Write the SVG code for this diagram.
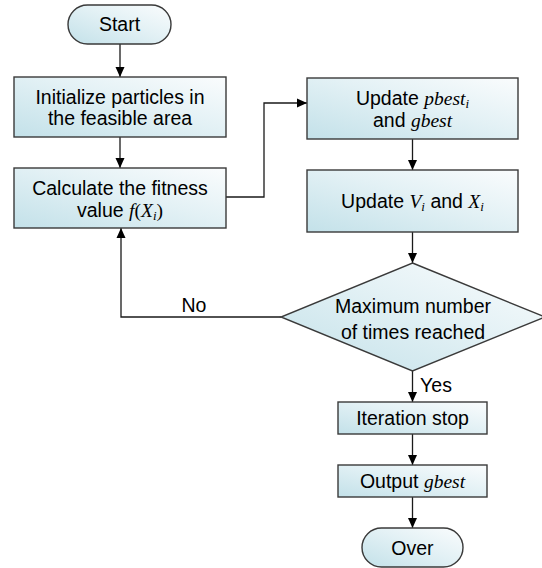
<svg xmlns="http://www.w3.org/2000/svg" width="542" height="568" viewBox="0 0 542 568">
<defs>
<linearGradient id="g" x1="0" y1="1" x2="1" y2="0">
<stop offset="0" stop-color="#c3e1e9"/>
<stop offset="0.55" stop-color="#e3f1f5"/>
<stop offset="1" stop-color="#fafcfd"/>
</linearGradient>
<marker id="ah" viewBox="0 0 10 10" refX="10" refY="5" markerWidth="10" markerHeight="10" markerUnits="userSpaceOnUse" orient="auto">
<path d="M0,0.5 L10,5 L0,9.5 Z" fill="#000"/>
</marker>
<style>
.n{fill:url(#g);stroke:#3a3a3a;stroke-width:1.4}
.t{font-family:"Liberation Sans",Arial,sans-serif;font-size:19.5px;fill:#000;text-anchor:middle}
.m{font-family:"Liberation Serif","Times New Roman",serif;font-style:italic}
.u{font-family:"Liberation Serif","Times New Roman",serif}
.s{font-size:13px}
.c{fill:none;stroke:#1a1a1a;stroke-width:1.3;marker-end:url(#ah)}
</style>
</defs>
<rect width="542" height="568" fill="#fff"/>
<g id="connectors">
<path class="c" d="M120,44 V77"/>
<path class="c" d="M120,137 V168"/>
<path class="c" d="M226,197 H264 V103 H307"/>
<path class="c" d="M412.5,139 V170"/>
<path class="c" d="M412.5,232 V263"/>
<path class="c" d="M281,317 H121 V228"/>
<path class="c" d="M412.5,371 V402"/>
<path class="c" d="M412.5,434 V465"/>
<path class="c" d="M412.5,497 V528"/>
</g>
<g id="start">
<rect class="n" x="68" y="5" width="103" height="39" rx="19.5"/>
<text class="t" x="119.5" y="31">Start</text>
</g>
<g id="init">
<rect class="n" x="14" y="77" width="212" height="60"/>
<text class="t" x="120" y="104">Initialize particles in</text>
<text class="t" x="120" y="125">the feasible area</text>
</g>
<g id="calc">
<rect class="n" x="14" y="168" width="212" height="60"/>
<text class="t" x="120" y="195">Calculate the fitness</text>
<text class="t" x="120" y="217">value <tspan class="m">f</tspan><tspan class="u">(</tspan><tspan class="m">X</tspan><tspan class="m s" dy="3">i</tspan><tspan class="u" dy="-3">)</tspan></text>
</g>
<g id="pbest">
<rect class="n" x="307" y="78" width="211" height="61"/>
<text class="t" x="412.5" y="105">Update <tspan class="m">pbest</tspan><tspan class="m s" dy="3">i</tspan></text>
<text class="t" x="412.5" y="127">and <tspan class="m">gbest</tspan></text>
</g>
<g id="update">
<rect class="n" x="307" y="170" width="211" height="62"/>
<text class="t" x="412.5" y="208">Update <tspan class="m">V</tspan><tspan class="m s" dy="3">i</tspan><tspan dy="-3"> and </tspan><tspan class="m">X</tspan><tspan class="m s" dy="3">i</tspan></text>
</g>
<g id="decision">
<polygon class="n" points="412.5,263 545,317 412.5,371 281,317"/>
<text class="t" x="413" y="313">Maximum number</text>
<text class="t" x="413" y="339">of times reached</text>
</g>
<g id="labels">
<text class="t" x="194" y="312">No</text>
<text class="t" x="436" y="392">Yes</text>
</g>
<g id="stop">
<rect class="n" x="338" y="402" width="149" height="32"/>
<text class="t" x="412.5" y="425">Iteration stop</text>
</g>
<g id="output">
<rect class="n" x="338" y="465" width="149" height="32"/>
<text class="t" x="412.5" y="488">Output <tspan class="m">gbest</tspan></text>
</g>
<g id="over">
<rect class="n" x="362" y="528" width="101" height="39" rx="19.5"/>
<text class="t" x="412.5" y="555">Over</text>
</g>
</svg>
